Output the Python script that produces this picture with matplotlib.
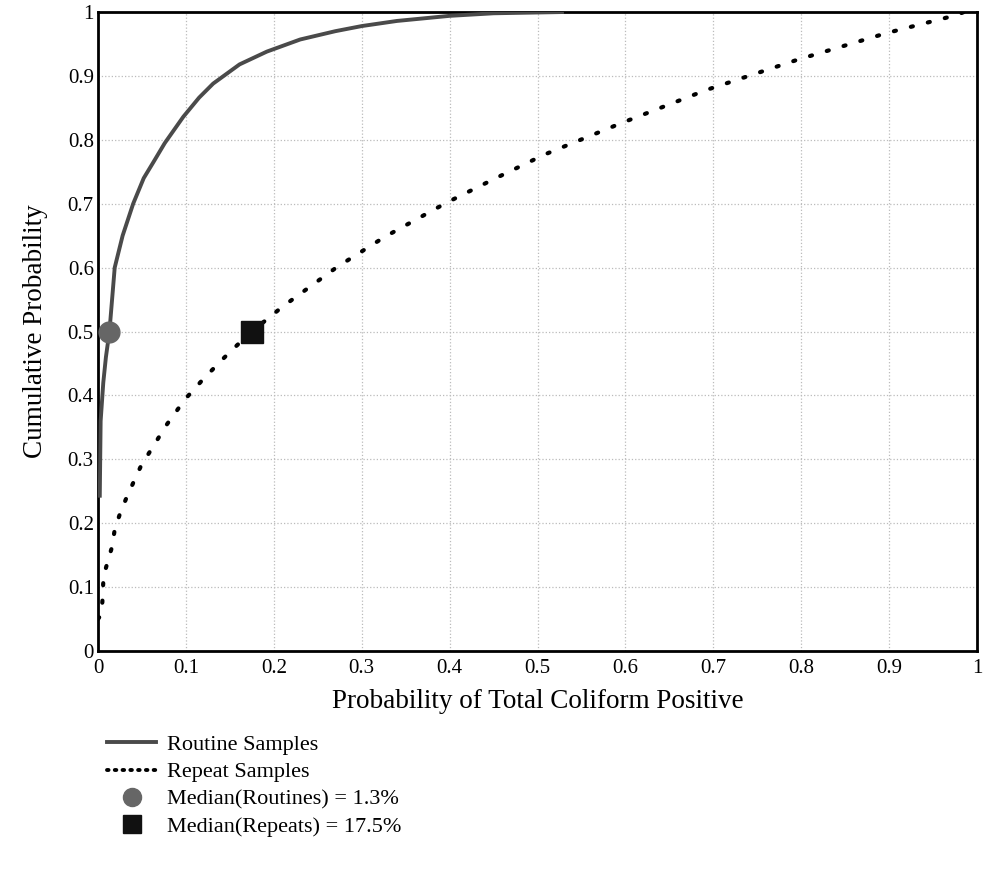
import matplotlib
matplotlib.use("Agg")
import matplotlib.pyplot as plt
from matplotlib.lines import Line2D

plt.rcParams['font.family'] = ['Liberation Serif', 'DejaVu Serif']

# curva de muestras rutinarias
routine_x = [0.002, 0.003, 0.006, 0.009, 0.013, 0.016, 0.019, 0.028, 0.040, 0.052,
             0.063, 0.076, 0.097, 0.115, 0.131, 0.161, 0.192, 0.230, 0.270, 0.300,
             0.340, 0.400, 0.450, 0.530]
routine_y = [0.24, 0.36, 0.42, 0.46, 0.50, 0.55, 0.60, 0.65, 0.70, 0.74,
             0.765, 0.795, 0.836, 0.866, 0.888, 0.918, 0.938, 0.957, 0.970, 0.978,
             0.986, 0.994, 0.998, 1.0]

# curva de muestras repetidas
repeat_x = [0.0, 0.004, 0.005, 0.006, 0.008, 0.012, 0.016, 0.019, 0.025, 0.033,
            0.049, 0.064, 0.078, 0.099, 0.120, 0.142, 0.157, 0.175, 0.210, 0.272,
            0.326, 0.397, 0.451, 0.508, 0.595, 0.692, 0.795, 0.897, 0.976, 0.985]
repeat_y = [0.05, 0.058, 0.078, 0.108, 0.125, 0.145, 0.163, 0.19, 0.215, 0.242,
            0.29, 0.323, 0.354, 0.394, 0.426, 0.457, 0.477, 0.5, 0.539, 0.601,
            0.648, 0.702, 0.739, 0.777, 0.826, 0.878, 0.925, 0.967, 0.995, 1.0]

median_routine = (0.013, 0.5)
median_repeat = (0.175, 0.5)

ticks = [0, 0.1, 0.2, 0.3, 0.4, 0.5, 0.6, 0.7, 0.8, 0.9, 1]
tick_labels = ["0", "0.1", "0.2", "0.3", "0.4", "0.5", "0.6", "0.7", "0.8", "0.9", "1"]

fig = plt.figure(figsize=(9.84, 8.96), dpi=100)
ax = fig.add_axes([0.0996, 0.2734, 0.8934, 0.7132])

ax.plot(routine_x, routine_y, color="#4a4a4a", lw=2.8, solid_capstyle="butt", zorder=3)
ax.plot(repeat_x, repeat_y, color="black", lw=3.0,
        linestyle=(0, (0.5, 3.7)), dash_capstyle="round", zorder=3)
ax.plot(*median_routine, marker="o", ms=15, color="#666666", zorder=4)
ax.plot(*median_repeat, marker="s", ms=16, color="#111111", zorder=4)

ax.set_xlim(0, 1)
ax.set_ylim(0, 1)
ax.set_xticks(ticks)
ax.set_xticklabels(tick_labels)
ax.set_yticks(ticks)
ax.set_yticklabels(tick_labels)
ax.tick_params(length=0, labelsize=15, pad=6)
ax.tick_params(axis="y", pad=3)
ax.grid(True, color="#bbbbbb", linestyle=":", lw=0.9)
for s in ax.spines.values():
    s.set_linewidth(2)

ax.set_xlabel("Probability of Total Coliform Positive", fontsize=19.5, labelpad=8)
ax.set_ylabel("Cumulative Probability", fontsize=19.5, labelpad=14)

handles = [
    Line2D([], [], color="#4a4a4a", lw=2.8),
    Line2D([], [], color="black", lw=2.8, linestyle=(0, (0.4, 1.6)), dash_capstyle="round"),
    Line2D([], [], color="#666666", marker="o", ms=13, lw=0),
    Line2D([], [], color="#111111", marker="s", ms=13, lw=0),
]
labels = ["Routine Samples", "Repeat Samples",
          "Median(Routines) = 1.3%", "Median(Repeats) = 17.5%"]
fig.legend(handles, labels, loc="upper left", bbox_to_anchor=(0.1, 0.19),
           frameon=False, fontsize=16, handlelength=2.2, handletextpad=0.5,
           labelspacing=0.3, borderaxespad=0)

fig.savefig("out.png", dpi=100)
